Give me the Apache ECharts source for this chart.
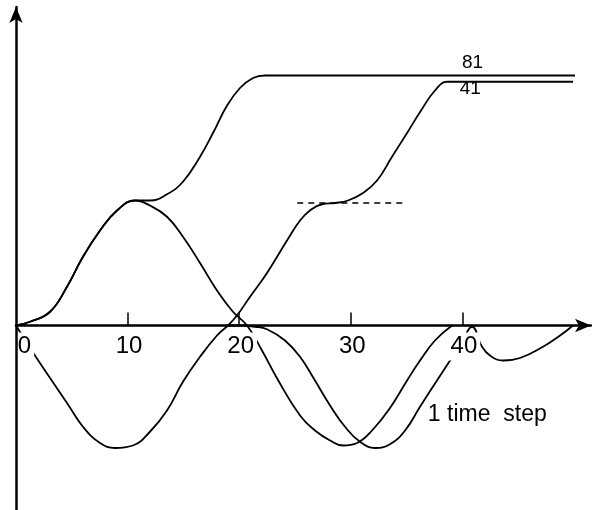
<!DOCTYPE html>
<html>
<head>
<meta charset="utf-8">
<script src="https://cdn.jsdelivr.net/npm/echarts@6/dist/echarts.min.js"></script>
<style>
  html, body { margin: 0; padding: 0; background: #fff; }
  #main { width: 592px; height: 510px; }
</style>
</head>
<body>
<div id="main"></div>
<script>
// tick marks and tick labels on the time axis
var xTicks = [10, 20, 30, 40];
var xLabels = [0, 10, 20, 30, 40];

// first positive lobe, shared by the "81" curve and the 1 time step curve
var lobeUp = [[0, 0], [1.25, 0.03], [3.05, 0.11], [4.57, 0.31], [6.0, 0.55],
    [7.53, 0.76], [9.05, 0.92], [10.66, 1.0]];

// "81": after the lobe it climbs straight to the upper plateau
var rest81 = [[12.0, 1.0], [13.53, 1.05], [14.96, 1.15], [16.49, 1.35],
    [17.65, 1.54], [18.91, 1.76], [20.07, 1.9], [21.24, 1.98], [22.31, 2.0],
    [50.09, 2.0]];

// 1 time step: falls back through zero and swings negative
var restStep = [[12.0, 0.96], [13.53, 0.87], [14.96, 0.71], [16.49, 0.5],
    [18.01, 0.28], [19.44, 0.11], [20.7, 0], [22.04, -0.2], [23.5, -0.44],
    [25.45, -0.72], [26.79, -0.84], [28.14, -0.92], [29.3, -0.96],
    [30.56, -0.94], [31.9, -0.84], [33.51, -0.66], [35.04, -0.44],
    [36.2, -0.28], [37.54, -0.12], [39.07, 0]];

// "41": negative lobe first, then two steps up (dashed level in between)
var curve41 = [[0, 0], [1.7, -0.24], [3.05, -0.42], [4.57, -0.62], [6.0, -0.81],
    [7.53, -0.94], [8.87, -0.98], [10.48, -0.96], [12.0, -0.85], [13.53, -0.68],
    [14.96, -0.45], [16.49, -0.25], [18.01, -0.08], [18.99, 0], [19.8, 0.08],
    [20.97, 0.23], [22.49, 0.42], [24.28, 0.68], [25.45, 0.84], [26.34, 0.92],
    [27.42, 0.97], [28.6, 0.98], [29.75, 1.0], [31.09, 1.06], [32.35, 1.16],
    [33.69, 1.35], [35.04, 1.54], [36.29, 1.72], [37.54, 1.88], [38.62, 1.95],
    [39.78, 1.95], [49.91, 1.95]];

// lower curve that stays below the axis after t = 20
var curveLow = [[18.99, 0], [20.07, 0], [21.42, -0.01], [22.49, -0.03],
    [24.1, -0.12], [25.45, -0.25], [26.79, -0.44], [28.14, -0.64], [29.48, -0.81],
    [30.82, -0.93], [32.17, -0.98], [33.51, -0.95], [34.86, -0.84], [36.2, -0.65],
    [37.72, -0.44], [38.89, -0.28], [39.96, -0.13], [40.86, -0.01], [41.76, -0.17],
    [42.47, -0.24], [43.64, -0.28], [45.16, -0.26], [47.22, -0.17], [48.75, -0.08],
    [49.91, 0]];

// dashed reference level
var dashT = [25.2, 34.9];
var dashY = 0.98;

var myChart = echarts.init(document.getElementById('main'));

// upper half (y >= 0) and lower half (y <= 0) get a grid each,
// so the time axis with its labels sits on the zero line
var curves = [
    { name: '81', data: lobeUp.concat(rest81) },
    { name: '1 time step', data: lobeUp.concat(restStep) },
    { name: '41', data: curve41 },
    { name: 'low', data: curveLow }
];

function note(name, coord, size, align) {
    return {
        name: name, coord: coord, symbolSize: 1,
        itemStyle: { color: 'transparent' },
        label: {
            show: true, position: 'inside', formatter: '{b}',
            color: '#000', fontSize: size, align: align,
            fontFamily: 'Liberation Sans'
        }
    };
}

var series = [];
curves.forEach(function (c) {
    [0, 1].forEach(function (g) {
        series.push({
            name: c.name,
            type: 'line',
            xAxisIndex: g,
            yAxisIndex: g,
            data: c.data,
            clip: true,
            showSymbol: false,
            symbol: 'none',
            smooth: 0.45,
            lineStyle: { color: '#000', width: 1.8 },
            z: 2
        });
    });
});

// labels and dashed level
series.push({
    type: 'line', xAxisIndex: 0, yAxisIndex: 0, data: [],
    markPoint: {
        data: [
            note('81', [40.9, 2.1], 19, 'center'),
            note('41', [40.7, 1.89], 19, 'center')
        ]
    },
    markLine: {
        symbol: 'none', silent: true,
        label: { show: false },
        lineStyle: { color: '#000', width: 1.5, type: [6, 5] },
        data: [[{ coord: [dashT[0], dashY] }, { coord: [dashT[1], dashY] }]]
    }
});
series.push({
    type: 'line', xAxisIndex: 1, yAxisIndex: 1, data: [],
    markPoint: { data: [note('1 time  step', [36.9, -0.72], 23, 'left')] }
});

var option = {
    animation: false,
    backgroundColor: '#fff',
    grid: [
        { left: 16, width: 575, top: 7, height: 318.5, outerBoundsMode: 'none' },
        { left: 16, width: 575, top: 325.5, height: 184.5, outerBoundsMode: 'none' }
    ],
    xAxis: [{
        gridIndex: 0, type: 'value', min: 0, max: 51.52, z: 3, position: 'bottom',
        axisLine: {
            onZero: false, symbol: ['none', 'arrow'], symbolSize: [10, 16],
            lineStyle: { color: '#000', width: 2.5 }
        },
        axisTick: {
            show: true, inside: true, length: 13, customValues: xTicks,
            lineStyle: { color: '#000', width: 1.5 }
        },
        axisLabel: {
            customValues: xLabels, margin: 7, fontSize: 24, color: '#000',
            fontFamily: 'Liberation Sans',
            backgroundColor: '#fff', padding: [2, 3, 2, 6],
            formatter: function (v) { return v === 0 ? '{z|0}' : String(v); },
            rich: { z: { fontSize: 24, padding: [0, 0, 0, 14], fontFamily: 'Liberation Sans' } }
        },
        splitLine: { show: false }
    }, {
        gridIndex: 1, type: 'value', min: 0, max: 51.52, show: false
    }],
    yAxis: [{
        gridIndex: 0, type: 'value', min: 0, max: 2.548, z: 4,
        axisLine: {
            onZero: false, symbol: ['none', 'arrow'], symbolSize: [10, 16],
            lineStyle: { color: '#000', width: 2.5 }
        },
        axisTick: { show: false },
        axisLabel: { show: false },
        splitLine: { show: false }
    }, {
        gridIndex: 1, type: 'value', min: -1.476, max: 0, z: 4,
        axisLine: { onZero: false, lineStyle: { color: '#000', width: 2.5 } },
        axisTick: { show: false },
        axisLabel: { show: false },
        splitLine: { show: false }
    }],
    series: series
};

myChart.setOption(option);
</script>
</body>
</html>
